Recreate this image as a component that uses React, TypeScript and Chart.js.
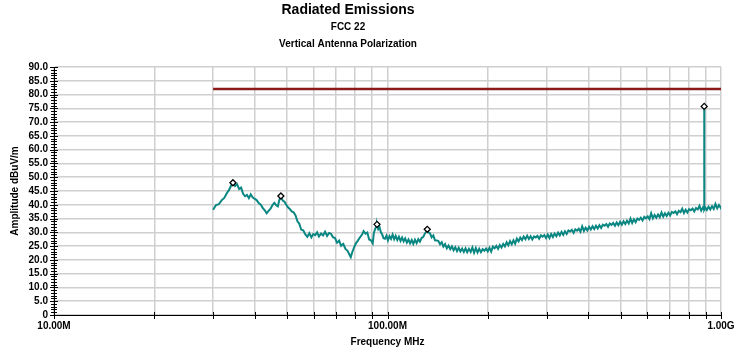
import { useEffect, useRef } from 'react';
import { Chart, registerables } from 'chart.js';

Chart.register(...registerables);

const FONT = '"Liberation Sans", Arial, Helvetica, sans-serif';
const GRID_COLOR = '#cfcfcf';
const TRACE_COLOR = '#0a8782';
const LIMIT_COLOR = '#8b1a1a';

const TITLE = 'Radiated Emissions';
const SUBTITLE_LINES = ['FCC 22', 'Vertical Antenna Polarization'];
const X_TITLE = 'Frequency MHz';
const Y_TITLE = 'Amplitude dBuV/m';

// Gridline positions on the log frequency axis (MHz) and the decades that carry a label
const X_GRID_MHZ = [10, 20, 30, 40, 50, 60, 70, 80, 90, 100, 200, 300, 400, 500, 600, 700, 800, 900, 1000];
const X_LABEL_MHZ = [10, 100, 1000];
const X_LABEL_TEXT = ['10.00M', '100.00M', '1.00G'];

// Limit line
const LIMIT_FREQ_MHZ = [30, 1000];
const LIMIT_DBUV = [82.0, 82.0];

// Peak markers
const MARKER_FREQ_MHZ = [34.4, 47.9, 93.0, 131.6, 890.5];
const MARKER_DBUV = [48.0, 43.2, 32.9, 31.1, 75.7];

// Measured sweep, 30 MHz - 1 GHz
const SWEEP_FREQ_MHZ = [
  30.0, 30.6, 31.2, 31.8, 32.4, 33.0, 33.5, 34.0, 34.4, 34.9,
  35.4, 35.9, 36.4, 36.9, 37.4, 37.9, 38.4, 38.9, 39.4, 39.9,
  40.5, 41.1, 41.7, 42.3, 42.9, 43.4, 44.0, 44.6, 45.2, 45.8,
  46.4, 46.9, 47.4, 47.9, 48.5, 49.1, 49.7, 50.3, 51.0, 51.6,
  52.3, 53.0, 53.7, 54.4, 55.1, 55.9, 56.7, 57.5, 58.3, 59.1,
  59.9, 60.7, 61.5, 62.3, 63.2, 64.1, 65.0, 65.9, 66.8, 67.7,
  68.6, 69.6, 70.6, 71.6, 72.6, 73.7, 74.8, 75.9, 77.0, 77.6,
  78.3, 79.3, 80.4, 81.5, 82.6, 83.7, 84.8, 85.9, 87.0, 88.1,
  89.2, 90.3, 91.0, 91.7, 92.4, 93.0, 93.8, 94.6, 95.5, 96.4,
  97.3, 98.3, 99.3, 100.3, 101.4, 102.5, 103.6, 104.7, 105.8, 107.0,
  108.2, 109.4, 110.6, 111.8, 113.0, 114.3, 115.6, 116.9, 118.2, 119.5,
  120.9, 122.3, 123.7, 125.1, 126.6, 128.0, 129.5, 130.6, 131.6, 132.8,
  134.1, 135.6, 137.2, 138.8, 140.4, 142.0, 143.7, 145.4, 147.1, 148.8,
  150.6, 152.4, 154.2, 156.0, 157.8, 159.7, 161.6, 163.5, 165.4, 167.4,
  169.4, 171.4, 173.4, 175.5, 177.6, 179.7, 181.8, 184.0, 186.2, 188.4,
  190.6, 192.9, 195.2, 197.5, 199.8, 202.2, 204.6, 207.0, 209.5, 212.0,
  214.5, 217.1, 219.7, 222.3, 224.9, 227.6, 230.3, 233.0, 235.8, 238.6,
  241.4, 244.3, 247.2, 250.1, 253.1, 256.1, 259.2, 262.3, 265.4, 268.6,
  271.8, 275.0, 278.3, 281.6, 285.0, 288.4, 291.8, 295.3, 298.8, 302.4,
  306.0, 309.6, 313.3, 317.1, 320.9, 324.7, 328.6, 332.5, 336.5, 340.5,
  344.6, 348.7, 352.9, 357.1, 361.4, 365.7, 370.1, 374.5, 379.0, 383.5,
  388.1, 392.7, 397.4, 402.2, 407.0, 411.9, 416.8, 421.8, 426.8, 431.9,
  437.1, 442.3, 447.6, 453.0, 458.4, 463.9, 469.5, 475.1, 480.8, 486.6,
  492.4, 498.3, 504.3, 510.3, 516.4, 522.6, 528.9, 535.2, 541.6, 548.1,
  554.7, 561.3, 568.0, 574.8, 581.7, 588.7, 595.7, 602.9, 610.1, 617.4,
  624.8, 632.3, 639.9, 647.6, 655.3, 663.2, 671.1, 679.2, 687.3, 695.5,
  703.9, 712.3, 720.8, 729.5, 738.2, 747.1, 756.0, 765.1, 774.3, 783.5,
  792.9, 802.4, 812.0, 821.8, 831.6, 841.6, 851.7, 861.9, 872.2, 882.6,
  889.8, 890.5, 891.2, 896.0, 906.8, 917.7, 928.7, 939.8, 951.1, 962.5,
  974.1, 985.8, 997.6, 1000.0,
];

const SWEEP_DBUV = [
  38.2, 39.9, 40.2, 41.6, 42.5, 44.3, 45.4, 47.1, 48.0, 46.8,
  47.5, 45.7, 46.2, 44.0, 43.1, 43.6, 42.4, 43.8, 42.7, 42.2,
  41.7, 40.6, 40.0, 38.8, 37.9, 36.9, 37.8, 38.6, 39.9, 40.7,
  39.8, 39.4, 41.8, 43.2, 41.5, 41.1, 40.0, 39.1, 38.4, 37.6,
  37.3, 36.1, 34.0, 33.1, 31.0, 30.7, 29.2, 28.4, 29.7, 28.2,
  29.4, 29.0, 30.0, 28.5, 29.6, 28.9, 30.2, 28.7, 29.8, 29.5,
  28.2, 27.9, 26.2, 27.0, 25.1, 25.8, 24.0, 23.3, 21.8, 21.0,
  22.6, 24.4, 26.0, 27.0, 28.1, 29.0, 30.4, 29.5, 29.9, 27.4,
  27.1, 26.0, 29.7, 31.0, 32.0, 32.9, 31.2, 32.0, 30.1, 29.2,
  27.9, 27.7, 28.8, 27.1, 28.6, 27.6, 29.2, 27.5, 28.7, 27.2,
  28.4, 26.9, 28.1, 26.7, 27.8, 26.3, 27.4, 26.0, 27.2, 25.8,
  27.3, 26.1, 27.5, 26.6, 28.0, 28.3, 29.6, 30.2, 31.1, 29.9,
  29.7, 28.2, 28.9, 27.1, 27.0, 26.9, 25.7, 26.4, 24.8, 25.7,
  24.2, 25.2, 23.9, 24.9, 23.5, 24.6, 23.2, 24.4, 23.1, 24.1,
  22.9, 24.2, 22.8, 24.0, 22.9, 24.5, 22.6, 24.3, 22.7, 24.0,
  22.8, 23.9, 23.3, 24.1, 23.1, 24.4, 23.0, 24.8, 24.2, 25.1,
  24.0, 25.4, 24.5, 25.8, 24.9, 26.4, 25.3, 26.8, 25.7, 27.1,
  25.9, 27.7, 26.7, 28.1, 27.2, 28.5, 27.5, 28.8, 27.6, 28.6,
  27.4, 28.5, 28.1, 28.7, 27.7, 28.9, 28.4, 29.0, 27.9, 29.2,
  27.9, 29.4, 28.3, 29.6, 28.6, 29.9, 28.9, 30.2, 29.1, 30.4,
  29.4, 30.7, 30.3, 30.9, 29.8, 31.1, 30.6, 31.3, 30.2, 32.2,
  30.5, 31.7, 30.7, 32.0, 31.0, 32.2, 31.2, 32.4, 31.4, 32.6,
  31.6, 32.8, 32.4, 33.0, 32.0, 33.2, 32.7, 33.4, 32.4, 33.6,
  32.6, 33.8, 32.8, 34.0, 33.0, 34.2, 33.2, 35.0, 33.4, 34.7,
  33.7, 35.0, 34.5, 35.3, 34.3, 35.6, 35.1, 35.8, 34.8, 36.9,
  35.1, 36.3, 35.3, 36.5, 35.5, 37.2, 35.7, 36.9, 35.9, 37.1,
  36.1, 37.4, 37.0, 37.6, 36.6, 37.8, 37.3, 38.6, 37.0, 38.2,
  37.2, 38.4, 38.0, 38.6, 37.6, 38.8, 38.3, 39.6, 37.9, 39.0,
  38.2, 75.7, 38.4, 39.1, 38.1, 39.3, 38.3, 39.5, 38.5, 40.3,
  38.7, 39.9, 38.9, 39.7,
];

const toPoints = (xs: number[], ys: number[]) => xs.map((x, i) => ({ x, y: ys[i] }));

// Centred title block above the plot
const titleBlock = {
  id: 'titleBlock',
  afterDraw(chart: any) {
    const { ctx } = chart;
    ctx.save();
    ctx.fillStyle = '#000';
    ctx.textAlign = 'center';
    ctx.textBaseline = 'middle';
    ctx.font = `bold 14px ${FONT}`;
    ctx.fillText(TITLE, 348, 10);
    ctx.font = `bold 10px ${FONT}`;
    ctx.fillText(SUBTITLE_LINES[0], 348, 27);
    ctx.fillText(SUBTITLE_LINES[1], 348, 44);
    ctx.restore();
  },
};

// Tick marks that straddle the axis lines
const axisTicks = {
  id: 'axisTicks',
  afterDraw(chart: any) {
    const { ctx, chartArea, scales } = chart;
    const xs = scales.x;
    const ys = scales.y;
    ctx.save();
    ctx.strokeStyle = '#000';
    ctx.lineWidth = 1;
    ctx.beginPath();
    ys.ticks.forEach((t: any) => {
      const py = Math.round(ys.getPixelForValue(t.value)) + 0.5;
      const major = t.value % 5 === 0;
      ctx.moveTo(chartArea.left - (major ? 4 : 3), py);
      ctx.lineTo(chartArea.left + (major ? 4 : 3), py);
    });
    xs.ticks.forEach((t: any) => {
      const px = Math.round(xs.getPixelForValue(t.value)) + 0.5;
      ctx.moveTo(px, chartArea.bottom - 3);
      ctx.lineTo(px, chartArea.bottom + 4);
    });
    ctx.stroke();
    ctx.restore();
  },
};

export default function App() {
  const canvasRef = useRef<HTMLCanvasElement | null>(null);

  useEffect(() => {
    const canvas = canvasRef.current;
    if (!canvas) return;
    const tickFont = { family: FONT, size: 10, weight: 'bold' as const };

    const chart = new Chart(canvas, {
      type: 'line',
      data: {
        datasets: [
          {
            label: 'Peaks',
            data: toPoints(MARKER_FREQ_MHZ, MARKER_DBUV),
            showLine: false,
            pointStyle: 'rectRot',
            pointRadius: 3,
            pointBorderWidth: 1.3,
            pointBorderColor: '#000',
            pointBackgroundColor: '#fff',
          },
          {
            label: 'Limit',
            data: toPoints(LIMIT_FREQ_MHZ, LIMIT_DBUV),
            borderColor: LIMIT_COLOR,
            borderWidth: 2.5,
            pointRadius: 0,
          },
          {
            label: 'Sweep',
            data: toPoints(SWEEP_FREQ_MHZ, SWEEP_DBUV),
            borderColor: TRACE_COLOR,
            borderWidth: 2,
            pointRadius: 0,
            tension: 0,
          },
        ],
      },
      plugins: [titleBlock, axisTicks],
      options: {
        responsive: false,
        animation: false,
        events: [],
        layout: { padding: { top: 67, right: 14, left: 0, bottom: 0 } },
        plugins: {
          legend: { display: false },
          tooltip: { enabled: false },
          title: { display: false },
        },
        scales: {
          x: {
            type: 'logarithmic',
            min: 10,
            max: 1000,
            afterBuildTicks(scale: any) {
              scale.ticks = X_GRID_MHZ.map((v) => ({ value: v }));
            },
            afterFit(scale: any) {
              scale.height = 41;
              scale.paddingLeft = 0;
              scale.paddingRight = 0;
            },
            ticks: {
              autoSkip: false,
              maxRotation: 0,
              minRotation: 0,
              padding: 5,
              color: '#000',
              font: tickFont,
              callback: (v: any) => {
                const i = X_LABEL_MHZ.indexOf(Number(v));
                return i >= 0 ? X_LABEL_TEXT[i] : '';
              },
            },
            grid: { color: GRID_COLOR, lineWidth: 1.5, drawTicks: false },
            border: { color: '#000', width: 1 },
            title: {
              display: true,
              text: X_TITLE,
              color: '#000',
              font: tickFont,
              padding: { top: 0, bottom: 8 },
            },
          },
          y: {
            type: 'linear',
            min: 0,
            max: 90,
            afterFit(scale: any) {
              scale.width = 54;
              scale.paddingTop = 0;
              scale.paddingBottom = 0;
            },
            ticks: {
              stepSize: 1,
              autoSkip: false,
              padding: 6,
              color: '#000',
              font: tickFont,
              callback: (v: any) => {
                const n = Number(v);
                if (n % 5 !== 0) return '';
                return n === 0 ? '0' : n.toFixed(1);
              },
            },
            grid: {
              color: (ctx: any) => (ctx.tick && ctx.tick.value % 5 === 0 ? GRID_COLOR : 'rgba(0,0,0,0)'),
              lineWidth: 1.5,
              drawTicks: false,
            },
            border: { color: '#000', width: 1 },
            title: {
              display: true,
              text: Y_TITLE,
              color: '#000',
              font: tickFont,
              padding: { top: 9, bottom: 0 },
            },
          },
        },
      },
    });

    return () => chart.destroy();
  }, []);

  return (
    <div style={{ position: 'fixed', left: 0, top: 0, width: 735, height: 356, background: '#fff' }}>
      <canvas ref={canvasRef} width={735} height={356} style={{ display: 'block' }} />
    </div>
  );
}
